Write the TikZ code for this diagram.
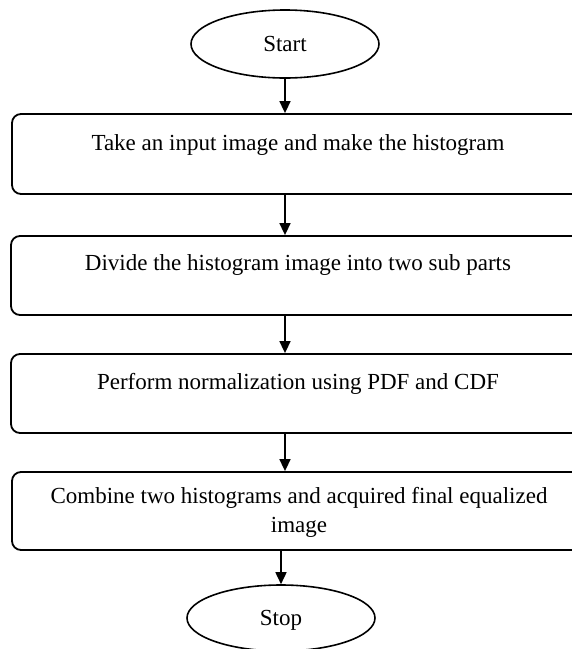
\documentclass[tikz,border=0pt]{standalone}
\usepackage{fontspec}
\setmainfont{Liberation Serif}
\usetikzlibrary{shapes.geometric,arrows.meta}
\begin{document}
\begin{tikzpicture}[x=1pt,y=1pt,
  term/.style={draw,ellipse,line width=1.6pt,minimum width=188pt,minimum height=68pt,inner sep=0pt},
  stepbox/.style={draw,rounded corners=9pt,line width=1.8pt,minimum width=578pt,inner sep=0pt},
  txt/.style={font=\fontsize{23}{29}\selectfont,align=center,inner sep=0pt},
  arr/.style={-{Triangle[length=12pt,width=11pt]},line width=1.6pt}]
\useasboundingbox (0,0) rectangle (572,-649);
\clip (0,0) rectangle (572,-649);
\node[term] (s) at (285,-44) {};
\node[txt] (st) at (285,-44) {Start};
\node[stepbox,minimum height=80pt] (b1) at (301,-154) {};
\node[txt] (t1) at (298,-145) {Take an input image and make the histogram};
\node[stepbox,minimum height=79pt] (b2) at (300,-275.5) {};
\node[txt] (t2) at (298,-265) {Divide the histogram image into two sub parts};
\node[stepbox,minimum height=79pt] (b3) at (300,-393.5) {};
\node[txt] (t3) at (298,-384) {Perform normalization using PDF and CDF};
\node[stepbox,minimum height=78pt] (b4) at (301,-511) {};
\node[txt] (t4) at (299,-512) {Combine two histograms and acquired final equalized\\image};
\node[term,minimum height=66pt] (e) at (281,-618) {};
\node[txt] (et) at (281,-620) {Stop};
\coordinate (ax) at (285,0);
\draw[arr] (s.south) -- (b1.north -| ax);
\draw[arr] (b1.south -| ax) -- (b2.north -| ax);
\draw[arr] (b2.south -| ax) -- (b3.north -| ax);
\draw[arr] (b3.south -| ax) -- (b4.north -| ax);
\draw[arr] (b4.south -| e.north) -- (e.north);
\end{tikzpicture}
\end{document}
